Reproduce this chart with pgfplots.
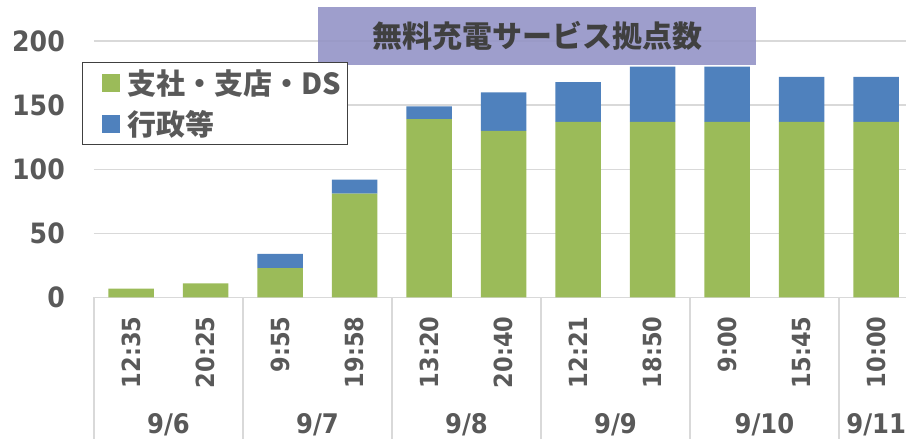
\documentclass[border=0pt]{standalone}
\usepackage{pgfplots}
\pgfplotsset{compat=1.18}
\usepackage{fontspec}
\setmainfont{DejaVu Sans}
\newfontfamily\numf{DejaVu Sans Condensed}
\newfontfamily\cjk{Noto Sans CJK JP}
\definecolor{grn}{HTML}{9BBB59}
\definecolor{blu}{HTML}{4F81BD}
\definecolor{txt}{HTML}{595959}
\definecolor{dtxt}{HTML}{404040}
\definecolor{gridc}{HTML}{D9D9D9}
\definecolor{ttl}{HTML}{9494C6}
\tikzset{
  datelbl/.style={anchor=base, yshift=-136pt, font=\numf\bfseries\fontsize{27}{27}\selectfont, text=txt},
  sep/.style={gridc, line width=1.3pt},
}
\begin{document}
\begin{tikzpicture}[x=1pt,y=1pt]
\useasboundingbox (0,0) rectangle (906,439);
\clip (0,0) rectangle (906,439);
\begin{axis}[
  at={(94pt,141.5pt)}, anchor=south west,
  scale only axis, width=812pt, height=256.5pt,
  ybar stacked, bar width=45.5pt,
  xmin=-0.5, xmax=10.4, ymin=0, ymax=200,
  clip=false,
  axis line style={draw=none},
  major tick length=0pt,
  ymajorgrids, major grid style={gridc, line width=1.3pt},
  ytick={0,50,100,150,200},
  /pgf/number format/assume math mode=true,
  yticklabel style={font=\numf\bfseries\fontsize{28}{28}\selectfont, text=txt, anchor=east, inner sep=0pt, xshift=-29pt},
  xtick={0,...,10},
  xticklabels={12:35,20:25,9:55,19:58,13:20,20:40,12:21,18:50,9:00,15:45,10:00},
  xticklabel style={rotate=90, anchor=east, inner sep=0pt, font=\numf\bfseries\fontsize{25}{25}\selectfont, text=txt},
  xticklabel shift=19pt,
  legend cell align=left,
  legend image code/.code={\path (0pt,0pt); \fill[#1] (15pt,-9pt) rectangle (33pt,9pt);},
  legend style={at={(-0.0148,0.919)}, anchor=north west, draw=dtxt, line width=1.5pt, fill=white,
    font=\cjk\bfseries\fontsize{29}{29}\selectfont, text=txt,
    inner xsep=4pt, inner ysep=5pt, row sep=11pt,
    /tikz/every odd column/.append style={column sep=6pt}},
]
\addplot[fill=grn, draw=none] coordinates {(0,7) (1,11) (2,23) (3,81) (4,139) (5,130) (6,137) (7,137) (8,137) (9,137) (10,137)};
\addplot[fill=blu, draw=none] coordinates {(0,0) (1,0) (2,11) (3,11) (4,10) (5,30) (6,31) (7,43) (8,43) (9,35) (10,35)};
\legend{支社・支店・DS,行政等}
\draw[sep] (axis cs:-0.5,0) -- ++(0pt,-141.5pt);
\draw[sep] (axis cs:1.5,0) -- ++(0pt,-141.5pt);
\draw[sep] (axis cs:3.5,0) -- ++(0pt,-141.5pt);
\draw[sep] (axis cs:5.5,0) -- ++(0pt,-141.5pt);
\draw[sep] (axis cs:7.5,0) -- ++(0pt,-141.5pt);
\draw[sep] (axis cs:9.5,0) -- ++(0pt,-141.5pt);
\node[datelbl] at (axis cs:0.5,0) {9/6};
\node[datelbl] at (axis cs:2.5,0) {9/7};
\node[datelbl] at (axis cs:4.5,0) {9/8};
\node[datelbl] at (axis cs:6.5,0) {9/9};
\node[datelbl] at (axis cs:8.5,0) {9/10};
\node[datelbl] at (axis cs:10,0) {9/11};
\node[fill=ttl, fill opacity=0.9, text opacity=1, minimum width=437.7pt, minimum height=57.7pt, inner sep=0pt,
  font=\cjk\bfseries\fontsize{30}{30}\selectfont, text=dtxt] at (axis cs:5.45,203.7) {無料充電サービス拠点数};
\end{axis}
\end{tikzpicture}
\end{document}
